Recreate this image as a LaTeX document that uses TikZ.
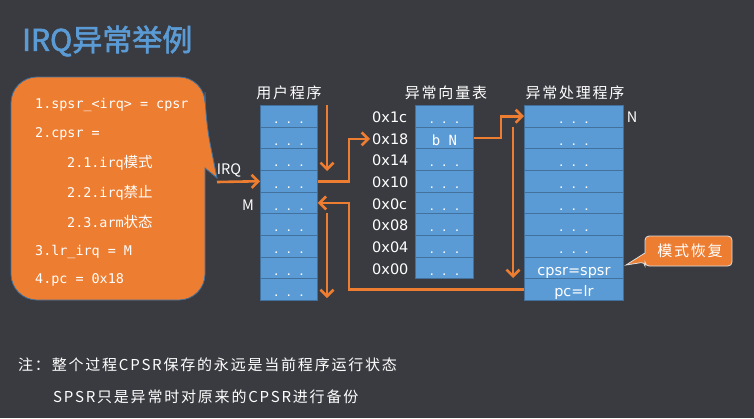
\documentclass[tikz,border=0pt]{standalone}
\usepackage{fontspec}
\usetikzlibrary{arrows.meta,calc}
\newfontfamily\cjk{Noto Sans CJK SC}
\newfontfamily\cjkw{Noto Sans CJK SC}[LetterSpace=12]
\newfontfamily\cjkb{Noto Sans CJK SC}[FakeBold=2]
\newfontfamily\mono{DejaVu Sans Mono}
\newfontfamily\dsans{DejaVu Sans}
\definecolor{bg}{HTML}{3A3B40}
\definecolor{cellblue}{HTML}{5B9BD5}
\definecolor{cellline}{HTML}{41719C}
\definecolor{orng}{HTML}{ED7D31}
\definecolor{titleblue}{HTML}{5B9BD5}
\begin{document}
\begin{tikzpicture}[x=1pt,y=-1pt,
  cell/.style={draw=cellline, fill=cellblue, line width=0.8pt, inner sep=0pt, anchor=north west,
    minimum height=21.67pt, text height=18pt, text depth=3.67pt, text=white},
  dotsf/.style={font=\mono\bfseries\fontsize{9}{9}\selectfont},
  arr/.style={draw=orng, line width=2.6pt, -{Straight Barb[length=6.5pt,width=13pt]}},
  lbl/.style={text=white, inner sep=0pt},
  ctext/.style={text=white, anchor=west, inner sep=0pt, font=\mono\fontsize{13.4}{13.4}\selectfont},
  stitle/.style={text=white, inner sep=0pt, font=\cjkw\fontsize{15}{15}\selectfont},
  addr/.style={text=white, inner sep=0pt, anchor=west, font=\dsans\fontsize{14.5}{14.5}\selectfont}
]
\fill[bg] (0,0) rectangle (754,418);
\useasboundingbox (0,0) rectangle (754,418);

% title
\node[anchor=west, text=titleblue, inner sep=0pt] (title) at (22,41) {\cjkb\fontsize{30}{30}\selectfont IRQ异常举例};

% main callout
\filldraw[fill=orng, draw=cellline, line width=0.8pt]
  [rounded corners=26pt] (11,77) -- (205,77) -- (205,118)
  [sharp corners] -- (217,178) -- (205,168)
  [rounded corners=26pt] -- (205,300) -- (11,300) -- cycle;
\node[ctext] (c1) at (35,105) {1.spsr\_<irq> = cpsr};
\node[ctext] (c2) at (35,134) {2.cpsr =};
\node[ctext] (c21) at (67,163) {2.1.irq{\cjk\fontsize{14.5}{14.5}\selectfont 模式}};
\node[ctext] (c22) at (67,193) {2.2.irq{\cjk\fontsize{14.5}{14.5}\selectfont 禁止}};
\node[ctext] (c23) at (67,222) {2.3.arm{\cjk\fontsize{14.5}{14.5}\selectfont 状态}};
\node[ctext] (c3) at (35,252) {3.lr\_irq = M};
\node[ctext] (c4) at (35,280) {4.pc = 0x18};

% user program stack
\node[stitle] (t1) at (289,93) {用户程序};
\foreach \i in {1,...,9} {
  \node[cell, minimum width=57pt, dotsf] (u\i) at (260,{105+(\i-1)*21.667}) {. . .};
}
% vector table
\node[stitle] (t2) at (446,93) {异常向量表};
\foreach \i in {1,3,4,5,6,7,8} {
  \node[cell, minimum width=58pt, dotsf] (v\i) at (415,{105+(\i-1)*21.667}) {. . .};
}
\node[cell, minimum width=58pt, font=\mono\fontsize{14}{14}\selectfont] (v2) at (415,126.667) {b N};
\foreach \i/\t in {1/0x1c,2/0x18,3/0x14,4/0x10,5/0x0c,6/0x08,7/0x04,8/0x00} {
  \node[addr] (a\i) at ($(v\i.west)+(-43,1)$) {\t};
}
% handler
\node[stitle] (t3) at (575,93) {异常处理程序};
\foreach \i in {1,...,7} {
  \node[cell, minimum width=99pt, dotsf] (h\i) at (524,{105+(\i-1)*21.667}) {. . .};
}
\node[cell, minimum width=99pt, font=\dsans\fontsize{14.5}{14.5}\selectfont] (h8) at (524,256.667) {cpsr=spsr};
\node[cell, minimum width=99pt, font=\dsans\fontsize{14.5}{14.5}\selectfont] (h9) at (524,278.333) {pc=lr};

% side labels
\node[lbl, font=\cjk\fontsize{14.5}{14.5}\selectfont] (irq) at (229,170) {IRQ};
\node[lbl, font=\cjk\fontsize{14.5}{14.5}\selectfont] (m) at (248,205) {M};
\node[lbl, font=\cjk\fontsize{14.5}{14.5}\selectfont] (n) at (632,117) {N};

% arrows
\coordinate (irq0) at (217,182);
\draw[arr] (irq0) -- (u4.west);
\coordinate (d1a) at (327,105);
\coordinate (d1b) at (327,171);
\draw[arr] (d1a) -- (d1b);
\coordinate (d2a) at (327,213);
\coordinate (d2b) at (327,298);
\draw[arr] (d2a) -- (d2b);
\coordinate (d3a) at (513,127);
\coordinate (d3b) at (513,278);
\draw[arr] (d3a) -- (d3b);
\draw[arr] (u4.east) -- ++(31,0) |- ([xshift=-2pt]a2.west);
\draw[arr] (v2.east) -- ++(27,0) |- (h1.west);
\draw[arr] (h9.west) -| ([xshift=31pt]u5.east) -- (u5.east);

% mode restore callout
\filldraw[fill=orng, draw=white!75!gray, line width=0.8pt]
  [rounded corners=4pt] (645,236) -- (732,236) -- (732,266) -- (645,266) -- (645,262)
  [sharp corners] -- (626,265) -- (645,253)
  [rounded corners=4pt] -- cycle;
\node[lbl, font=\cjkw\fontsize{15}{15}\selectfont] (mh) at (690,251) {模式恢复};

% notes
\node[lbl, anchor=west, font=\cjkw\fontsize{15}{15}\selectfont] (note1) at (18,365) {注：整个过程CPSR保存的永远是当前程序运行状态};
\node[lbl, anchor=west, font=\cjkw\fontsize{15}{15}\selectfont] (note2) at (53,397) {SPSR只是异常时对原来的CPSR进行备份};
\end{tikzpicture}
\end{document}
